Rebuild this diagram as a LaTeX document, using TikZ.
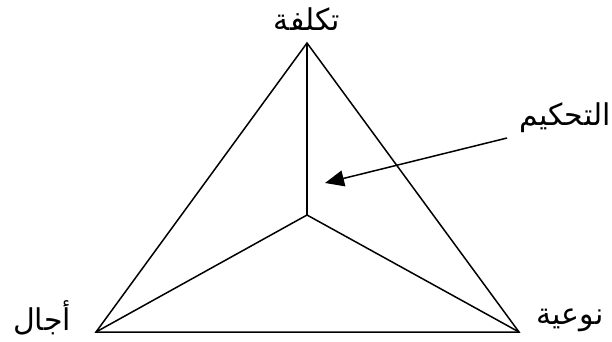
\documentclass[tikz,border=0pt]{standalone}
\usepackage{fontspec}
\newfontfamily\arabicfont[Script=Arabic]{DejaVu Sans}
\TeXXeTstate=1
\usetikzlibrary{arrows.meta}

\tikzset{
  edge/.style={line width=1.5pt, black},
  lbl/.style={font=\arabicfont\fontsize{30}{34}\selectfont, inner sep=0pt, anchor=center},
  pointer/.style={line width=1.5pt, -{Triangle[length=19pt,width=16pt]}}
}

\begin{document}
\begin{tikzpicture}[x=1pt, y=-1pt]
  \useasboundingbox (0,0) rectangle (612,341);

  % Triangle corners and centre
  \coordinate (top) at (307,43);
  \coordinate (left) at (96,332);
  \coordinate (right) at (519,332);
  \coordinate (mid) at (307,215);

  % Outline and spokes
  \draw[edge, line join=miter] (top) -- (left) -- (right) -- cycle;
  \draw[edge] (mid) -- (top);
  \draw[edge] (mid) -- (left);
  \draw[edge] (mid) -- (right);

  % Labels
  \node[lbl] (cost) at (307,19) {\beginR تكلفة\endR};
  \node[lbl] (time) at (42,318) {\beginR أجال\endR};
  \node[lbl] (quality) at (570,320) {\beginR نوعية\endR};
  \node[lbl] (control) at (565,118) {\beginR التحكيم\endR};

  % Pointer
  \coordinate (ctrlfrom) at (507,138);
  \coordinate (ctrlto) at (325,183);
  \draw[pointer] (ctrlfrom) -- (ctrlto);
\end{tikzpicture}
\end{document}
